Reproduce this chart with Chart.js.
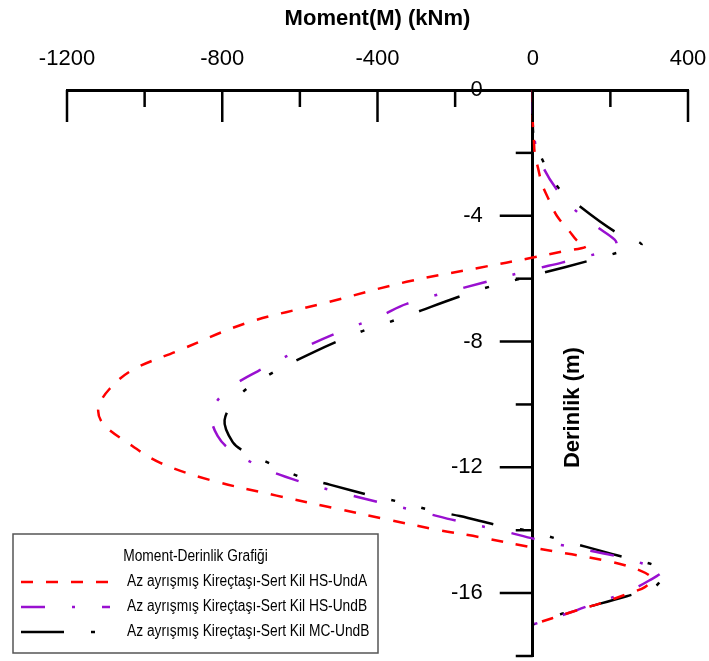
<!DOCTYPE html>
<html>
<head>
<meta charset="utf-8">
<script src="https://cdn.jsdelivr.net/npm/chart.js@4.4.1/dist/chart.umd.min.js"></script>
<style>
  html, body { margin: 0; padding: 0; background: #fff; }
  #wrap { width: 709px; height: 661px; }
</style>
</head>
<body>
<div id="wrap"><canvas id="momentChart" width="709" height="661"></canvas></div>
<script>
// values: depth (m) vs moment (kNm)
const depthHsUndA = [0, -1.0, -1.6, -2.0, -2.5, -3.0, -3.5, -4.0, -4.5, -4.8, -4.97, -5.15, -5.33, -5.65, -6.1, -6.76, -7.4, -8.3, -8.9, -9.5, -10.1, -10.6, -11.2, -11.85, -12.4, -12.9, -13.3, -13.65, -14.0, -14.22, -14.55, -15.0, -15.3, -15.55, -15.8, -16.0, -16.3, -16.6, -17.0];
const momentHsUndA = [0, 0, 3, 5, 14, 24, 42, 62, 95, 115, 139, 70, 0, -137, -325, -531, -735, -915, -1031, -1090, -1119, -1108, -1046, -961, -832, -660, -510, -379, -240, -137, 0, 200, 280, 307, 290, 250, 180, 100, 0];

const depthHsUndB = [0, -1.0, -1.6, -2.0, -2.44, -3.08, -3.75, -4.35, -4.76, -4.93, -5.08, -5.3, -5.49, -5.71, -6.13, -6.8, -7.2, -7.6, -8.15, -8.8, -9.37, -10.0, -10.5, -11.0, -11.37, -11.97, -12.45, -12.8, -13.1, -13.4, -13.7, -14.0, -14.28, -14.48, -14.8, -15.05, -15.27, -15.6, -16.0, -16.3, -16.6, -17.0];
const momentHsUndB = [0, 0, 5, 12, 26, 57, 103, 165, 211, 216, 204, 134, 75, 0, -129, -325, -394, -479, -582, -686, -768, -820, -827, -812, -786, -704, -600, -497, -400, -295, -196, -85, 5, 77, 206, 281, 335, 300, 235, 165, 100, 0];

const depthMcUndB = [0, -1.0, -1.5, -2.17, -3.08, -3.7, -4.5, -4.93, -5.2, -5.45, -5.8, -6.03, -6.3, -6.6, -7.05, -7.4, -7.7, -8.35, -9.1, -9.7, -10.5, -11.2, -11.5, -11.9, -12.3, -12.55, -12.9, -13.1, -13.37, -13.55, -13.87, -14.03, -14.3, -14.76, -15.2, -15.45, -15.8, -16.1, -16.45, -16.7, -17.0];
const momentMcUndB = [0, 0, 3, 23, 64, 121, 211, 281, 211, 139, 31, -41, -124, -196, -296, -374, -446, -567, -686, -755, -794, -773, -742, -673, -600, -523, -415, -343, -260, -188, -80, -8, 70, 206, 332, 335, 314, 242, 139, 64, 0];

const seriesNames = [
  'Az ayrışmış Kireçtaşı-Sert Kil HS-UndA',
  'Az ayrışmış Kireçtaşı-Sert Kil HS-UndB',
  'Az ayrışmış Kireçtaşı-Sert Kil MC-UndB'
];
const legendTitle = 'Moment-Derinlik Grafiği';

function toPoints(depths, moments) {
  return depths.map((d, i) => ({ x: moments[i], y: d }));
}

const baseFont = "Arial, 'Liberation Sans', sans-serif";

// tick marks point inward like in the source figure, y labels sit left of them
const axisTicks = {
  id: 'axisTicks',
  afterDraw(chart) {
    const { ctx, scales: { x, y }, chartArea } = chart;
    ctx.save();
    ctx.strokeStyle = '#000';
    ctx.lineWidth = 2.5;
    x.ticks.forEach(t => {
      const px = x.getPixelForValue(t.value);
      const len = t.value % 400 === 0 ? 32 : 17;
      ctx.beginPath();
      ctx.moveTo(px, chartArea.top);
      ctx.lineTo(px, chartArea.top + len);
      ctx.stroke();
    });
    const ax = x.getPixelForValue(0);
    ctx.fillStyle = '#000';
    ctx.font = "22px " + baseFont;
    ctx.textAlign = 'right';
    ctx.textBaseline = 'middle';
    y.ticks.forEach(t => {
      const py = y.getPixelForValue(t.value);
      if (t.value !== 0) {
        const len = t.value % 4 === 0 ? 33 : 17;
        ctx.beginPath();
        ctx.moveTo(ax, py);
        ctx.lineTo(ax - len, py);
        ctx.stroke();
      }
      if (t.value % 4 === 0) {
        ctx.fillText(String(t.value), ax - 50, py);
      }
    });
    // y axis title, right of the axis
    ctx.translate(ax + 40, y.getPixelForValue(-10.1));
    ctx.rotate(-Math.PI / 2);
    ctx.font = "bold 22px " + baseFont;
    ctx.textAlign = 'center';
    ctx.fillText('Derinlik (m)', 0, 0);
    ctx.restore();
  }
};

// boxed legend in the lower left corner
const boxLegend = {
  id: 'boxLegend',
  afterDraw(chart) {
    const { ctx } = chart;
    const bx = 13, by = 534, bw = 365, bh = 119;
    ctx.save();
    ctx.fillStyle = '#fff';
    ctx.fillRect(bx, by, bw, bh);
    ctx.strokeStyle = '#555';
    ctx.lineWidth = 1.5;
    ctx.strokeRect(bx, by, bw, bh);
    ctx.fillStyle = '#000';
    ctx.font = "16px " + baseFont;
    ctx.textBaseline = 'middle';
    // the source uses a condensed face, squeeze it horizontally
    const squeeze = 0.86;
    ctx.textAlign = 'center';
    ctx.save();
    ctx.translate(bx + bw / 2, 557);
    ctx.scale(squeeze, 1);
    ctx.fillText(legendTitle, 0, 0);
    ctx.restore();
    ctx.textAlign = 'left';
    chart.data.datasets.forEach((ds, i) => {
      const ry = 582 + i * 25;
      ctx.strokeStyle = ds.borderColor;
      ctx.lineWidth = ds.borderWidth;
      ctx.setLineDash(ds.borderDash);
      ctx.beginPath();
      ctx.moveTo(21, ry);
      ctx.lineTo(110, ry);
      ctx.stroke();
      ctx.setLineDash([]);
      ctx.save();
      ctx.translate(127, ry);
      ctx.scale(squeeze, 1);
      ctx.fillText(ds.label, 0, 0);
      ctx.restore();
    });
    ctx.restore();
  }
};

new Chart(document.getElementById('momentChart'), {
  type: 'scatter',
  data: {
    datasets: [
      {
        label: seriesNames[0],
        data: toPoints(depthHsUndA, momentHsUndA),
        borderColor: '#ff0000',
        borderWidth: 2.5,
        borderDash: [12, 13],
        showLine: true,
        pointRadius: 0,
        tension: 0.35
      },
      {
        label: seriesNames[1],
        data: toPoints(depthHsUndB, momentHsUndB),
        borderColor: '#9910d0',
        borderWidth: 2.5,
        borderDash: [24, 27, 3, 27],
        showLine: true,
        pointRadius: 0,
        tension: 0.35
      },
      {
        label: seriesNames[2],
        data: toPoints(depthMcUndB, momentMcUndB),
        borderColor: '#000000',
        borderWidth: 2.5,
        borderDash: [43, 27, 4, 27, 4, 27],
        showLine: true,
        pointRadius: 0,
        tension: 0.35
      }
    ]
  },
  options: {
    responsive: false,
    animation: false,
    devicePixelRatio: 1,
    layout: { padding: { top: 6, left: 67, right: 21, bottom: 5 } },
    plugins: {
      legend: { display: false },
      tooltip: { enabled: false }
    },
    scales: {
      x: {
        type: 'linear',
        position: 'top',
        min: -1200,
        max: 400,
        grid: { display: false, drawTicks: false },
        border: { display: true, color: '#000', width: 3 },
        ticks: {
          stepSize: 200,
          padding: 18,
          color: '#000',
          font: { family: baseFont, size: 22 },
          callback: v => (v % 400 === 0 ? String(v) : '')
        },
        title: {
          display: true,
          text: 'Moment(M) (kNm)',
          color: '#000',
          font: { family: baseFont, size: 22, weight: 'bold' },
          padding: { top: 0, bottom: 14 }
        },
        afterFit: s => {
          s.paddingLeft = 0;
          s.paddingRight = 0;
          s.height = 84;
        }
      },
      y: {
        type: 'linear',
        position: { x: 0 },
        min: -18,
        max: 0,
        grid: { display: false, drawTicks: false },
        border: { display: true, color: '#000', width: 3 },
        ticks: { stepSize: 2, display: false },
        afterFit: s => {
          s.paddingTop = 0;
          s.paddingBottom = 0;
          s.width = 0;
        }
      }
    }
  },
  plugins: [axisTicks, boxLegend]
});
</script>
</body>
</html>
